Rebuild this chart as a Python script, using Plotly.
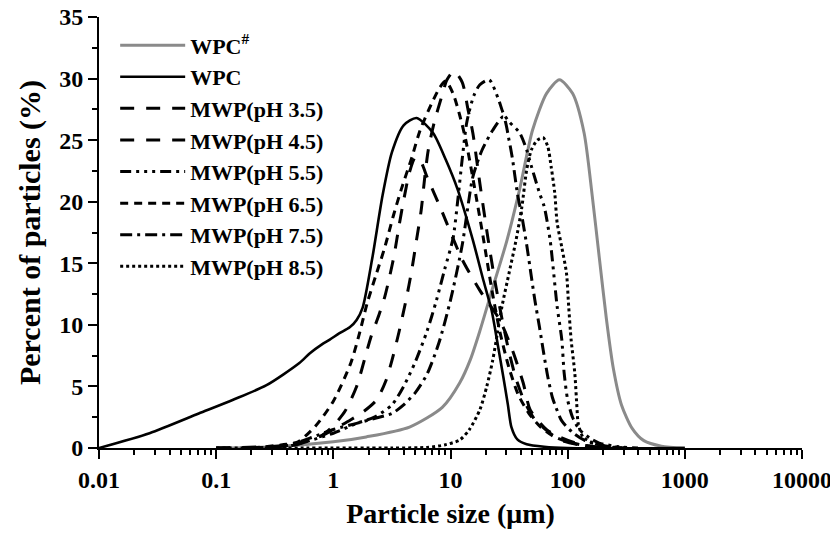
import plotly.graph_objects as go

# ---------------- data (particle size in µm, percent of particles) ----------------
wpc_hash_x = [0.1, 0.316, 1.0, 1.91, 4.47, 8.51, 12.0, 14.8, 17.8, 22.9, 30.2, 38.9, 50.1,
              66.1, 85.1, 110, 138, 162, 186, 214, 245, 288, 355, 447, 631, 1000]
wpc_hash_y = [0, 0.1, 0.5, 0.9, 1.7, 3.3, 5.3, 7.2, 9.5, 13.0, 16.8, 21.0, 25.8,
              28.8, 29.9, 28.8, 25.6, 20.5, 15.5, 10.5, 6.5, 3.5, 1.6, 0.6, 0.15, 0]

wpc_x = [0.01, 0.027, 0.071, 0.138, 0.269, 0.513, 0.631, 0.794, 0.933, 1.12, 1.38, 1.58, 1.78,
         2.14, 2.63, 3.16, 3.98, 5.13, 7.08, 9.12, 11.5, 15.5, 19.1, 22.4, 25.1, 28.2, 30.9,
         33.1, 37.2, 44.7, 63.1, 100, 1000]
wpc_y = [0, 1.2, 2.8, 3.9, 5.1, 6.9, 7.7, 8.4, 8.8, 9.3, 9.8, 10.4, 11.4,
         15.3, 20.5, 24.0, 26.2, 26.8, 25.6, 23.4, 21.0, 16.9, 13.6, 11.2, 8.6, 5.8, 3.5,
         1.7, 0.7, 0.3, 0.1, 0, 0]

ph35_x = [0.1, 0.316, 0.5, 0.794, 1.0, 1.26, 1.58, 1.91, 2.09, 2.45, 2.75, 3.02, 3.31, 3.63,
          3.98, 4.47, 5.01, 5.62, 6.31, 8.13, 12.6, 17.8, 26.3, 33.9, 41.7, 47.9, 66.1, 85.1,
          117, 158, 251]
ph35_y = [0, 0.1, 0.3, 1.0, 1.8, 3.0, 5.0, 7.7, 9.0, 10.8, 12.3, 13.9, 15.7, 18.0,
          20.1, 22.4, 23.6, 23.2, 22.0, 19.6, 15.3, 12.8, 10.4, 7.9, 5.3, 3.1, 1.5, 0.9,
          0.4, 0.15, 0]

ph45_x = [0.1, 0.316, 0.5, 0.794, 1.0, 1.41, 1.78, 2.34, 2.82, 3.16, 3.63, 4.17, 4.68, 5.13,
          5.62, 6.03, 6.46, 7.24, 8.51, 9.33, 10.7, 12.6, 14.1, 15.5, 17.8, 20.9, 24.0, 27.5,
          31.6, 36.3, 42.7, 52.5, 70.8, 89.1, 126, 200, 316]
ph45_y = [0, 0.15, 0.4, 1.0, 1.5, 2.3, 2.9, 3.9, 5.5, 7.1, 9.4, 12.0, 14.5, 16.9,
          19.3, 22.0, 24.2, 26.4, 28.7, 29.9, 30.6, 29.7, 27.5, 25.6, 21.5, 17.0, 13.5, 10.5,
          7.8, 5.6, 3.8, 2.3, 1.2, 0.6, 0.25, 0.05, 0]

ph55_x = [0.2, 0.398, 0.631, 1.0, 1.58, 2.24, 3.16, 3.98, 5.01, 6.31, 7.59, 8.91, 10.5, 11.5,
          12.6, 13.8, 15.8, 17.8, 21.4, 25.7, 28.2, 31.6, 38.9, 44.7, 47.9, 57.5, 63.1, 70.8,
          81.3, 89.1, 93.3, 100, 110, 126, 155, 186, 275, 398]
ph55_y = [0, 0.1, 0.6, 1.2, 2.0, 2.5, 3.5, 5.0, 7.0, 9.5, 12.0, 14.5, 17.0, 20.0,
          23.5, 26.5, 28.6, 29.5, 29.9, 28.3, 27.2, 26.5, 25.6, 24.2, 23.2, 20.7, 19.6, 16.9,
          11.5, 8.8, 6.1, 3.9, 2.5, 1.5, 0.8, 0.4, 0.1, 0]

ph65_x = [0.2, 0.398, 0.5, 0.708, 1.0, 1.41, 1.66, 1.95, 2.34, 2.75, 3.24, 3.8, 4.68, 5.5,
          6.92, 8.13, 9.12, 10.5, 12.0, 13.5, 15.8, 19.1, 22.4, 26.3, 31.6, 38.0, 46.8, 58.9,
          74.1, 100, 141, 224]
ph65_y = [0, 0.3, 0.5, 1.8, 3.8, 6.9, 9.2, 11.8, 14.2, 16.3, 18.8, 21.0, 23.6, 25.8,
          28.0, 29.3, 29.8, 28.8, 27.0, 25.0, 21.5, 17.0, 13.0, 9.5, 6.5, 4.3, 2.8, 1.7,
          1.0, 0.5, 0.2, 0]

ph75_x = [0.2, 0.398, 0.631, 1.0, 1.58, 2.24, 3.16, 3.98, 5.01, 6.31, 7.94, 10.0, 12.6, 15.5,
          18.6, 22.9, 28.2, 31.6, 33.9, 37.2, 40.7, 44.7, 49.0, 52.5, 57.5, 61.7, 67.6, 74.1,
          79.4, 89.1, 112, 141, 200, 316]
ph75_y = [0, 0.2, 0.8, 1.5, 2.0, 2.4, 2.8, 3.5, 4.5, 6.0, 8.5, 12.0, 16.5, 22.0,
          24.2, 25.8, 26.9, 25.0, 23.4, 20.7, 18.8, 16.5, 13.9, 12.0, 9.8, 8.0, 5.8, 4.1,
          3.3, 2.2, 1.2, 0.6, 0.2, 0]

ph85_x = [0.1, 3.16, 6.31, 8.91, 12.0, 14.5, 17.8, 20.4, 22.9, 25.1, 27.5, 31.6, 36.3, 40.7,
          44.7, 49.0, 55.0, 61.7, 67.6, 72.4, 77.6, 81.3, 89.1, 97.7, 102, 107, 115, 120,
          123, 135, 166, 224, 316]
ph85_y = [0, 0, 0.05, 0.25, 0.65, 1.5, 3.1, 5.0, 7.1, 9.3, 11.5, 14.2, 16.9, 19.6,
          22.6, 24.2, 25.0, 25.2, 24.5, 22.8, 20.7, 18.3, 16.3, 14.2, 11.5, 8.8, 6.1, 3.3,
          2.0, 0.9, 0.4, 0.1, 0]

x_tick_vals = [0.01, 0.1, 1, 10, 100, 1000, 10000]
x_tick_text = ["0.01", "0.1", "1", "10", "100", "1000", "10000"]
y_tick_vals = [0, 5, 10, 15, 20, 25, 30, 35]

series = [
    ("WPC<sup>#</sup>", wpc_hash_x, wpc_hash_y, "#8a8a8a", "solid", 3),
    ("WPC", wpc_x, wpc_y, "black", "solid", 2.6),
    ("MWP(pH 3.5)", ph35_x, ph35_y, "black", "14px,12px", 3),
    ("MWP(pH 4.5)", ph45_x, ph45_y, "black", "14px,12px", 3),
    ("MWP(pH 5.5)", ph55_x, ph55_y, "black", "11px,5px,3px,5px,3px,5px,3px,5px", 3),
    ("MWP(pH 6.5)", ph65_x, ph65_y, "black", "8px,6px", 3),
    ("MWP(pH 7.5)", ph75_x, ph75_y, "black", "12px,5px,3px,5px", 3),
    ("MWP(pH 8.5)", ph85_x, ph85_y, "black", "3px,3px", 3),
]

FONT = "Liberation Serif"

fig = go.Figure()
for name, xs, ys, color, dash, width in series:
    fig.add_trace(go.Scatter(
        x=xs, y=ys, name=name, mode="lines",
        line=dict(color=color, dash=dash, width=width, shape="spline", smoothing=0.7),
    ))

minor_x = [m * 10 ** e for e in range(-2, 4) for m in range(2, 10)]

# the page adds an 8px body margin, so the figure is 8px smaller than the window
fig.update_layout(
    width=830, height=528,
    margin=dict(l=91, r=36, t=9, b=88),
    paper_bgcolor="white", plot_bgcolor="white",
    font=dict(family=FONT, size=22, color="black", weight="bold"),
    showlegend=True,
    legend=dict(
        x=0.023, y=0.983, xanchor="left", yanchor="top",
        bgcolor="rgba(0,0,0,0)", borderwidth=0,
        font=dict(family=FONT, size=22, color="black", weight="bold"),
        itemwidth=65, tracegroupgap=0,
    ),
    xaxis=dict(
        type="log", range=[-2, 4], automargin=False, ticklabeloverflow="allow",
        tickmode="array", tickvals=x_tick_vals, ticktext=x_tick_text,
        showline=True, linecolor="black", linewidth=2,
        ticks="outside", ticklen=9, tickwidth=2, tickcolor="black",
        minor=dict(tickmode="array", tickvals=minor_x, ticks="outside",
                   ticklen=5, tickwidth=1.5, tickcolor="black", showgrid=False),
        showgrid=False, zeroline=False,
        tickfont=dict(family=FONT, size=24, color="black", weight="bold"),
        title=dict(text="Particle size (μm)", standoff=12,
                   font=dict(family=FONT, size=28, color="black", weight="bold")),
    ),
    yaxis=dict(
        range=[0, 35], automargin=False, ticklabeloverflow="allow",
        tickmode="array", tickvals=y_tick_vals,
        showline=True, linecolor="black", linewidth=2,
        ticks="outside", ticklen=9, tickwidth=2, tickcolor="black",
        minor=dict(dtick=2.5, ticks="outside", ticklen=5, tickwidth=1.5,
                   tickcolor="black", showgrid=False),
        showgrid=False, zeroline=False,
        tickfont=dict(family=FONT, size=24, color="black", weight="bold"),
        title=dict(text="Percent of particles (%)", standoff=10,
                   font=dict(family=FONT, size=30, color="black", weight="bold")),
    ),
)

fig.write_html("out.html")
